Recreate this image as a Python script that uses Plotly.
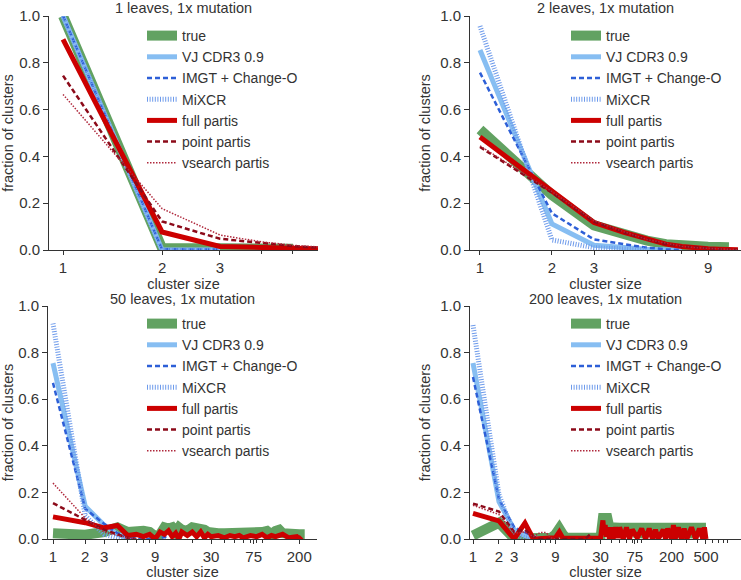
"""Cluster size distributions for four simulated samples (partis comparison)."""

import plotly.graph_objects as go

# ---- data -------------------------------------------------------------
methods = ["true", "VJ CDR3 0.9", "IMGT + Change-O", "MiXCR",
           "full partis", "point partis", "vsearch partis"]

titles = ["1 leaves, 1x mutation", "2 leaves, 1x mutation",
          "50 leaves, 1x mutation", "200 leaves, 1x mutation"]

tick_vals = [
    [1, 2, 3],
    [1, 2, 3, 9],
    [1, 2, 3, 9, 30, 75, 200],
    [1, 2, 3, 9, 30, 75, 200, 500],
]

# panel 1: 1 leaves
p1_true_x = [1, 2, 3, 4, 5]
p1_true_y = [1.0, 0.008, 0.008, 0.006, 0.005]
p1_vj_x = [1, 2, 3]
p1_vj_y = [1.0, 0.0, 0.0]
p1_imgt_x = [1, 2, 3]
p1_imgt_y = [1.0, 0.003, 0.002]
p1_mixcr_x = [1, 2, 3]
p1_mixcr_y = [1.0, 0.0, 0.0]
p1_full_x = [1, 2, 3, 4, 5, 6]
p1_full_y = [0.90, 0.077, 0.015, 0.010, 0.006, 0.005]
p1_point_x = [1, 2, 3, 4, 5, 6]
p1_point_y = [0.745, 0.122, 0.048, 0.030, 0.017, 0.010]
p1_vsearch_x = [1, 2, 3, 4, 5, 6]
p1_vsearch_y = [0.665, 0.177, 0.064, 0.035, 0.020, 0.013]

# panel 2: 2 leaves
p2_true_x = [1, 2, 3, 4, 5, 6, 7, 8, 9, 10, 11]
p2_true_y = [0.515, 0.235, 0.105, 0.065, 0.040, 0.025, 0.018, 0.015, 0.014, 0.013, 0.012]
p2_vj_x = [1, 2, 3, 4, 5, 6, 7]
p2_vj_y = [0.855, 0.111, 0.020, 0.008, 0.003, 0.001, 0.0]
p2_imgt_x = [1, 2, 3, 4, 5, 6, 7]
p2_imgt_y = [0.758, 0.157, 0.045, 0.025, 0.010, 0.003, 0.0]
p2_mixcr_x = [1, 2, 3, 4, 5]
p2_mixcr_y = [0.957, 0.043, 0.010, 0.003, 0.0]
p2_full_x = [1, 2, 3, 4, 5, 6, 7, 8, 9, 10, 11, 12]
p2_full_y = [0.483, 0.255, 0.117, 0.075, 0.045, 0.025, 0.015, 0.008, 0.005, 0.003, 0.002, 0.001]
p2_point_x = [1, 2, 3, 4, 5, 6, 7, 8, 9, 10, 11, 12]
p2_point_y = [0.440, 0.245, 0.120, 0.075, 0.045, 0.025, 0.015, 0.010, 0.006, 0.004, 0.002, 0.001]
p2_vsearch_x = [1, 2, 3, 4, 5, 6, 7, 8, 9, 10, 11, 12]
p2_vsearch_y = [0.445, 0.250, 0.125, 0.078, 0.045, 0.028, 0.016, 0.010, 0.007, 0.004, 0.002, 0.001]

# panel 3: 50 leaves
p3_true_x = [1, 2, 3, 4, 5, 6, 7, 8, 9, 10, 11, 12, 13, 14, 15, 16, 18, 20, 22, 24,
             26, 28, 30, 35, 40, 45, 50, 60, 70, 80, 90, 100, 110, 120, 130, 140,
             160, 180, 200, 225]
p3_true_y = [0.025, 0.018, 0.030, 0.050, 0.030, 0.035, 0.035, 0.030, 0.012, 0.020,
             0.050, 0.045, 0.050, 0.030, 0.050, 0.040, 0.035, 0.050, 0.045, 0.050,
             0.040, 0.030, 0.025, 0.025, 0.025, 0.025, 0.020, 0.025, 0.025, 0.020,
             0.030, 0.035, 0.020, 0.035, 0.040, 0.025, 0.020, 0.020, 0.020, 0.020]
p3_vj_x = [1, 2, 3, 4, 5, 6]
p3_vj_y = [0.755, 0.140, 0.060, 0.020, 0.005, 0.0]
p3_imgt_x = [1, 2, 3, 4, 5, 6, 10, 11, 12]
p3_imgt_y = [0.670, 0.130, 0.065, 0.025, 0.010, 0.0, 0.0, 0.010, 0.0]
p3_mixcr_x = [1, 2, 3, 4, 5]
p3_mixcr_y = [0.925, 0.100, 0.020, 0.005, 0.0]
p3_full_x = [1, 2, 3, 4, 5, 6, 7, 8, 9, 10, 11, 12, 13, 14, 15, 16, 18, 20, 22, 24,
             26, 28, 30, 35, 40, 45, 50, 55, 60, 70, 80, 90, 100, 110, 120, 140,
             160, 180, 190, 200, 210]
p3_full_y = [0.095, 0.070, 0.048, 0.058, 0.015, 0.020, 0.010, 0.020, 0.0, 0.030,
             0.020, 0.035, 0.010, 0.025, 0.0, 0.030, 0.015, 0.030, 0.010, 0.030,
             0.005, 0.020, 0.010, 0.015, 0.005, 0.015, 0.010, 0.015, 0.005, 0.015,
             0.010, 0.020, 0.005, 0.015, 0.010, 0.020, 0.005, 0.010, 0.010, 0.0, 0.010]
p3_point_x = [1, 2, 3, 4, 5, 6]
p3_point_y = [0.154, 0.080, 0.040, 0.020, 0.005, 0.0]
p3_vsearch_x = [1, 2, 3, 4, 5, 6]
p3_vsearch_y = [0.240, 0.090, 0.030, 0.015, 0.005, 0.0]

# panel 4: 200 leaves
p4_true_x = [1, 2, 3, 4, 6, 8, 9, 10, 11, 12, 15, 20, 25, 30, 32, 34, 36, 38, 40, 45,
             50, 55, 60, 70, 78, 82, 90, 100, 110, 125, 135, 145, 160, 175, 182, 190,
             210, 230, 250, 270, 290, 310, 340, 380, 420, 460, 500]
p4_true_y = [0.015, 0.070, 0.002, 0.005, 0.005, 0.005, 0.020, 0.045, 0.020, 0.005,
             0.005, 0.005, 0.005, 0.005, 0.090, 0.095, 0.090, 0.050, 0.048, 0.048,
             0.048, 0.048, 0.048, 0.048, 0.048, 0.010, 0.048, 0.048, 0.048, 0.048,
             0.010, 0.048, 0.048, 0.048, 0.010, 0.048, 0.048, 0.010, 0.048, 0.048,
             0.048, 0.010, 0.048, 0.048, 0.048, 0.048, 0.048]
p4_vj_x = [1, 2, 3, 4, 5, 6]
p4_vj_y = [0.755, 0.160, 0.040, 0.015, 0.005, 0.0]
p4_imgt_x = [1, 2, 3, 4, 5, 6]
p4_imgt_y = [0.695, 0.170, 0.050, 0.030, 0.010, 0.0]
p4_mixcr_x = [1, 2, 3, 4, 5]
p4_mixcr_y = [0.918, 0.190, 0.020, 0.005, 0.0]
p4_full_x = [1, 2, 3, 4, 5, 6, 8, 9, 10, 11, 15, 20, 25, 30, 32, 33, 34, 35, 36, 38,
             40, 42, 45, 48, 50, 55, 60, 65, 70, 80, 90, 100, 110, 120, 130, 140,
             160, 170, 180, 200, 210, 220, 240, 260, 280, 300, 340, 380, 420, 460,
             480, 500]
p4_full_y = [0.110, 0.078, 0.0, 0.068, 0.0, 0.003, 0.003, 0.005, 0.030, 0.003,
             0.003, 0.002, 0.003, 0.003, 0.080, 0.020, 0.060, 0.010, 0.050, 0.0,
             0.050, 0.0, 0.050, 0.005, 0.050, 0.0, 0.050, 0.0, 0.040, 0.005,
             0.045, 0.0, 0.045, 0.0, 0.040, 0.0, 0.040, 0.0, 0.045, 0.0,
             0.060, 0.0, 0.050, 0.0, 0.045, 0.0, 0.050, 0.0, 0.045, 0.0,
             0.050, 0.0]
p4_point_x = [1, 2, 3, 4, 5, 6, 20, 22, 24]
p4_point_y = [0.152, 0.118, 0.030, 0.040, 0.010, 0.0, 0.0, 0.015, 0.0]
p4_vsearch_x = [1, 2, 3, 4, 5, 6, 7, 8, 9]
p4_vsearch_y = [0.145, 0.105, 0.025, 0.030, 0.010, 0.028, 0.028, 0.005, 0.0]

panels = [
    [(p1_true_x, p1_true_y), (p1_vj_x, p1_vj_y), (p1_imgt_x, p1_imgt_y),
     (p1_mixcr_x, p1_mixcr_y), (p1_full_x, p1_full_y), (p1_point_x, p1_point_y),
     (p1_vsearch_x, p1_vsearch_y)],
    [(p2_true_x, p2_true_y), (p2_vj_x, p2_vj_y), (p2_imgt_x, p2_imgt_y),
     (p2_mixcr_x, p2_mixcr_y), (p2_full_x, p2_full_y), (p2_point_x, p2_point_y),
     (p2_vsearch_x, p2_vsearch_y)],
    [(p3_true_x, p3_true_y), (p3_vj_x, p3_vj_y), (p3_imgt_x, p3_imgt_y),
     (p3_mixcr_x, p3_mixcr_y), (p3_full_x, p3_full_y), (p3_point_x, p3_point_y),
     (p3_vsearch_x, p3_vsearch_y)],
    [(p4_true_x, p4_true_y), (p4_vj_x, p4_vj_y), (p4_imgt_x, p4_imgt_y),
     (p4_mixcr_x, p4_mixcr_y), (p4_full_x, p4_full_y), (p4_point_x, p4_point_y),
     (p4_vsearch_x, p4_vsearch_y)],
]

# ---- styles -----------------------------------------------------------
line_styles = [
    dict(color="rgb(98,162,98)", width=10),
    dict(color="rgb(135,190,242)", width=5),
    dict(color="rgb(45,95,215)", width=2.5, dash="5px,3px"),
    dict(color="rgb(110,155,235)", width=5, dash="1px,1.6px"),
    dict(color="rgb(204,0,0)", width=5),
    dict(color="rgb(140,10,25)", width=2.5, dash="5px,3px"),
    dict(color="rgb(175,40,60)", width=1.5, dash="1.5px,1.5px"),
]

W, H = 741, 580
# plot areas in pixels: (left, right, top, bottom)
boxes = [(49, 318, 16, 250), (470, 741, 16, 250),
         (48, 317, 306, 539), (470, 741, 306, 539)]
# log10 x ranges
x_ranges = [[-0.0426, 0.775], [-0.0418, 1.092], [-0.0467, 2.467], [-0.0348, 3.105]]
# legend origin in pixels (left, top)
legend_pos = [(142, 20), (566, 20), (142, 308), (566, 308)]
# panel title centre heights in pixels
title_y = [8, 8, 299, 299]

font = "Liberation Sans, Arial, sans-serif"
ink = "#333333"

fig = go.Figure()

for p, series in enumerate(panels):
    sfx = "" if p == 0 else str(p + 1)
    for m, (xs, ys) in enumerate(series):
        fig.add_trace(
            go.Scatter(
                x=xs,
                y=ys,
                mode="lines",
                name=methods[m],
                line=line_styles[m],
                xaxis="x" + sfx,
                yaxis="y" + sfx,
                legend="legend" + sfx,
                hovertemplate="size %{x}: %{y:.3f}<extra>" + methods[m] + "</extra>",
            )
        )

layout = dict(
    width=W,
    height=H,
    autosize=False,
    margin=dict(l=0, r=0, t=0, b=0, pad=0, autoexpand=False),
    paper_bgcolor="white",
    plot_bgcolor="white",
    font=dict(family=font, size=15, color=ink),
    annotations=[],
)

for p in range(4):
    sfx = "" if p == 0 else str(p + 1)
    left, right, top, bottom = boxes[p]
    minor_vals = [v for v in [4, 5, 6, 7, 8, 20, 40, 50, 60, 70, 80, 90, 300, 400,
                              600, 700, 800, 900]
                  if v not in tick_vals[p]]
    layout["xaxis" + sfx] = dict(
        type="log",
        domain=[left / W, right / W],
        range=x_ranges[p],
        anchor="y" + sfx,
        automargin=False,
        tickvals=tick_vals[p],
        ticktext=[str(v) for v in tick_vals[p]],
        ticks="outside",
        ticklen=4,
        tickcolor=ink,
        showline=True,
        linecolor=ink,
        linewidth=1,
        showgrid=False,
        zeroline=False,
        tickfont=dict(size=15),
        title=dict(text="cluster size", font=dict(size=14.5), standoff=0),
        minor=dict(tickvals=minor_vals, ticks="outside", ticklen=3, tickcolor=ink,
                   showgrid=False),
    )
    layout["yaxis" + sfx] = dict(
        domain=[1 - bottom / H, 1 - top / H],
        range=[0, 1],
        anchor="x" + sfx,
        automargin=False,
        tickvals=[0, 0.2, 0.4, 0.6, 0.8, 1.0],
        tickformat=".1f",
        ticks="outside",
        ticklen=5,
        tickcolor=ink,
        showline=True,
        linecolor=ink,
        linewidth=1,
        showgrid=False,
        zeroline=False,
        tickfont=dict(size=15),
        title=dict(text="fraction of clusters", font=dict(size=14.5), standoff=6),
    )
    lx, ly = legend_pos[p]
    layout["legend" + sfx] = dict(
        x=lx / W,
        y=1 - ly / H,
        xanchor="left",
        yanchor="top",
        bgcolor="rgba(0,0,0,0)",
        font=dict(size=14, color=ink),
        tracegroupgap=0,
    )
    layout["annotations"].append(
        dict(
            text=titles[p],
            x=(left + right) / 2 / W,
            y=1 - title_y[p] / H,
            xref="paper",
            yref="paper",
            xanchor="center",
            yanchor="middle",
            showarrow=False,
            font=dict(size=14.5, color=ink),
        )
    )

fig.update_layout(**layout)

fig.write_html(
    "out.html",
    config={"displayModeBar": False},
    post_script="document.body.style.margin='0';",
)
